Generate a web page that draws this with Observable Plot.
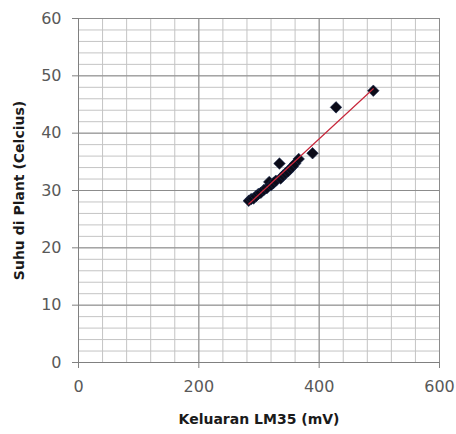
<!DOCTYPE html>
<html>
<head>
<meta charset="utf-8">
<script src="https://cdn.jsdelivr.net/npm/d3@7"></script>
<script src="https://cdn.jsdelivr.net/npm/@observablehq/plot@0.6"></script>
<style>
  html, body { margin: 0; padding: 0; background: #fff; }
</style>
</head>
<body>
<div id="chart"></div>
<script>
// Data
const keluaran = [283, 287, 291, 295, 299, 303, 308, 313, 317, 320, 324, 328, 334, 336, 340, 344, 348, 352, 356, 360, 366, 389, 428, 490];
const suhu     = [28.2, 28.5, 28.6, 29.0, 29.4, 29.6, 30.1, 30.4, 31.5, 30.9, 31.3, 31.7, 34.7, 32.1, 32.6, 33.0, 33.3, 33.8, 34.2, 34.7, 35.5, 36.5, 44.5, 47.4];

const xTicks = [0, 200, 400, 600];
const yTicks = [0, 10, 20, 30, 40, 50, 60];
const xMinor = [0, 40, 80, 120, 160, 200, 240, 280, 320, 360, 400, 440, 480, 520, 560, 600];
const yMinor = [0, 2, 4, 6, 8, 10, 12, 14, 16, 18, 20, 22, 24, 26, 28, 30, 32, 34, 36, 38, 40, 42, 44, 46, 48, 50, 52, 54, 56, 58, 60];

const xTitle = "Keluaran LM35 (mV)";
const yTitle = "Suhu di Plant (Celcius)";

const data = keluaran.map((x, i) => ({x, y: suhu[i]}));

const chart = Plot.plot({
  width: 456,
  height: 434,
  marginLeft: 78,
  marginRight: 17,
  marginTop: 18,
  marginBottom: 72,
  style: {fontFamily: "DejaVu Sans, Verdana, sans-serif", fontSize: "16px", color: "#595959", background: "#fff"},
  x: {domain: [0, 600]},
  y: {domain: [0, 60]},
  marks: [
    Plot.gridX(xMinor, {stroke: "#c4c4c4", strokeOpacity: 1}),
    Plot.gridY(yMinor, {stroke: "#c4c4c4", strokeOpacity: 1}),
    Plot.gridX(xTicks, {stroke: "#8c8c8c", strokeOpacity: 1}),
    Plot.gridY(yTicks, {stroke: "#8c8c8c", strokeOpacity: 1}),
    Plot.axisX({ticks: xTicks, tickSize: 6, tickPadding: 12, stroke: "#808080", label: null, fill: "#595959"}),
    Plot.axisY({ticks: yTicks, tickSize: 6, tickPadding: 11, stroke: "#808080", label: null, fill: "#595959"}),
    Plot.ruleX([0], {stroke: "#808080"}),
    Plot.ruleY([0], {stroke: "#808080"}),
    Plot.dot(data, {x: "x", y: "y", symbol: "diamond2", r: 5.2, fill: "#0b0b18", stroke: "#1a2a50", strokeWidth: 0.6}),
    Plot.linearRegressionY(data, {x: "x", y: "y", ci: 0, stroke: "#c8283c", strokeWidth: 1.2}),
    Plot.text([xTitle], {frameAnchor: "bottom", dy: 61, textAnchor: "middle", fontWeight: "bold", fontSize: 14, fill: "#1a1a1a"}),
    Plot.text([yTitle], {frameAnchor: "left", dx: -59, textAnchor: "middle", rotate: -90, fontWeight: "bold", fontSize: 14, fill: "#1a1a1a"})
  ]
});

document.getElementById("chart").appendChild(chart);
</script>
</body>
</html>
